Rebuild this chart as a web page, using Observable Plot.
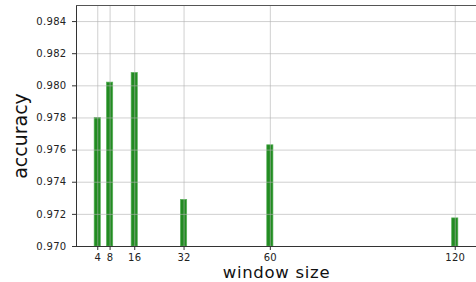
<!DOCTYPE html>
<html>
<head>
<meta charset="utf-8">
<script src="https://cdn.jsdelivr.net/npm/d3@7"></script>
<script src="https://cdn.jsdelivr.net/npm/@observablehq/plot@0.6"></script>
<style>
  html, body { margin: 0; padding: 0; background: #fff; }
  #chart svg { display: block; }
</style>
</head>
<body>
<div id="chart"></div>
<script>
const windows = [4, 8, 16, 32, 60, 120];
const accuracy = [0.9780, 0.9802, 0.9808, 0.9729, 0.9763, 0.97175];
const yTicks = [0.970, 0.972, 0.974, 0.976, 0.978, 0.980, 0.982, 0.984];
const xDomain = [-2.9, 126.9];
const yDomain = [0.970, 0.985];
const barHalfWidth = 1;
const xLabel = "window size";
const yLabel = "accuracy";

const data = windows.map((w, i) => ({w, acc: accuracy[i]}));

const chart = Plot.plot({
  width: 476,
  height: 282,
  marginLeft: 76,
  marginRight: 0,
  marginTop: 5,
  marginBottom: 36,
  style: {fontFamily: "DejaVu Sans", background: "#fff", color: "#222"},
  x: {domain: xDomain, label: null},
  y: {domain: yDomain, label: null},
  marks: [
    Plot.rect(data, {
      x1: d => d.w - barHalfWidth,
      x2: d => d.w + barHalfWidth,
      y1: yDomain[0],
      y2: "acc",
      fill: "#228b22",
      stroke: "#4fae4f",
      strokeWidth: 0.8,
      strokeOpacity: 0.8
    }),
    Plot.ruleY(yTicks, {stroke: "#b0b0b0", strokeOpacity: 0.6, strokeWidth: 1}),
    Plot.ruleX(windows, {stroke: "#b0b0b0", strokeOpacity: 0.6, strokeWidth: 1}),
    Plot.ruleX([xDomain[0]], {stroke: "#333", strokeWidth: 1}),
    Plot.ruleY([yDomain[0]], {stroke: "#333", strokeWidth: 1}),
    Plot.ruleY([yDomain[1]], {stroke: "#555", strokeWidth: 1}),
    Plot.axisY({
      ticks: yTicks,
      tickFormat: d3.format(".3f"),
      tickSize: 4,
      tickPadding: 6,
      fontSize: 10,
      label: null,
      stroke: "#333"
    }),
    Plot.axisX({
      ticks: windows,
      tickFormat: d3.format("d"),
      tickSize: 4,
      tickPadding: 3,
      fontSize: 10,
      label: null,
      stroke: "#333"
    }),
    Plot.text([xLabel], {
      frameAnchor: "bottom",
      textAnchor: "middle",
      dy: 31,
      fontSize: 16.5,
      fill: "#111",
      text: d => d
    }),
    Plot.text([yLabel], {
      frameAnchor: "left",
      textAnchor: "middle",
      dx: -56,
      dy: 10,
      rotate: -90,
      fontSize: 19,
      fill: "#111",
      text: d => d
    })
  ]
});

d3.select(chart).selectAll("g[aria-label='x-axis tick label'] text, g[aria-label='y-axis tick label'] text")
  .style("letter-spacing", "0.3px");
d3.select(chart).selectAll("g[aria-label='text'] text").filter(function() { return this.textContent === xLabel; })
  .style("letter-spacing", "0.7px");

document.getElementById("chart").appendChild(chart);
</script>
</body>
</html>
